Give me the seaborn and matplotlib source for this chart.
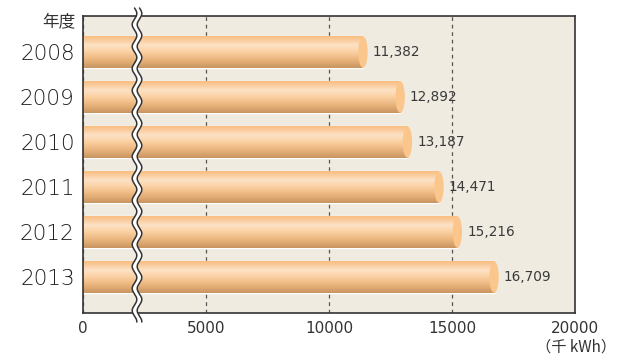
import numpy as np
import pandas as pd
import matplotlib
matplotlib.use("Agg")
import matplotlib.pyplot as plt
import seaborn as sns
from matplotlib.patches import Ellipse
from matplotlib.colors import LinearSegmentedColormap

# Annual electricity use (thousand kWh)
years = ["2008", "2009", "2010", "2011", "2012", "2013"]
usage = [11382, 12892, 13187, 14471, 15216, 16709]
value_labels = ["11,382", "12,892", "13,187", "14,471", "15,216", "16,709"]
x_ticks = [0, 5000, 10000, 15000, 20000]
x_tick_labels = ["0", "5000", "10000", "15000", "20000"]
year_title = "年度"
unit_label = "（千 kWh）"

sns.set_theme(style="white")
plt.rcParams["font.family"] = ["DejaVu Sans", "Noto Sans CJK JP"]

W, H = 617, 356
fig = plt.figure(figsize=(W / 100, H / 100), dpi=100)
fig.patch.set_facecolor("white")
ax = fig.add_axes([83 / W, 1 - 313 / H, (575 - 83) / W, (313 - 16) / H])
ax.set_facecolor("#efebe1")

df = pd.DataFrame({"year": years, "usage": usage})
sns.barplot(data=df, x="usage", y="year", orient="h", width=0.7,
            color="#f9c48c", saturation=1, ax=ax, zorder=2)

# cylinder shading: vertical gradient across each bar
shade = LinearSegmentedColormap.from_list(
    "tube",
    [(0.0, "#f8bd80"), (0.28, "#fde2c6"), (0.5, "#fbd0a2"),
     (0.75, "#eab47c"), (1.0, "#c89461")])
grad = np.linspace(0, 1, 64).reshape(-1, 1)
cap_w = 380
for p, val, lab in zip(ax.patches, usage, value_labels):
    x0, y0, w, h = p.get_x(), p.get_y(), p.get_width(), p.get_height()
    ax.imshow(grad, cmap=shade, aspect="auto", origin="upper",
              extent=(x0, x0 + w, y0 + h, y0), zorder=2.5,
              interpolation="bilinear")
    ax.add_patch(Ellipse((x0 + w, y0 + h / 2), cap_w, h,
                         facecolor="#fbc68c", edgecolor="none", zorder=3))
    ax.text(val + 400, y0 + h / 2, lab, ha="left", va="center",
            fontsize=9.8, color="#3a3a3a", zorder=4)

ax.set_xlim(0, 20000)
ax.set_ylim(5.8, -0.8)

ax.set_xticks(x_ticks)
ax.set_xticklabels(x_tick_labels)
ax.xaxis.grid(True, linestyle=(0, (3, 3)), color="#555555", lw=0.9, zorder=1)
ax.yaxis.grid(False)
ax.set_axisbelow(True)
ax.set_xlabel("")
ax.set_ylabel("")
ax.tick_params(axis="x", length=0, pad=5.5, labelsize=11, labelcolor="#333333")
ax.tick_params(axis="y", length=0, pad=6, labelsize=15.5, labelcolor="#1e1e1e")
for t in ax.get_yticklabels():
    t.set_fontweight("light")
for s in ax.spines.values():
    s.set_color("#333333")
    s.set_linewidth(1.2)

fig.text(75 / W, 1 - 22 / H, year_title, ha="right", va="center",
         fontsize=12, color="#333333", family=["Noto Sans CJK JP", "DejaVu Sans"])
fig.text(576 / W, 1 - 352 / H, unit_label, ha="center", va="baseline",
         fontsize=11, color="#333333", family=["Noto Sans CJK JP", "DejaVu Sans"])

# axis break: a double wavy line across the plot
ov = fig.add_axes([0, 0, 1, 1], zorder=10)
ov.set_xlim(0, W)
ov.set_ylim(H, 0)
ov.axis("off")
yy = np.linspace(8, 322, 600)
wave = 2.3 * np.sin(2 * np.pi * (yy - 8) / 22)
left = 134.5 + wave
right = 139.5 + wave
ov.fill_betweenx(yy, left, right, color="white", lw=0)
ov.plot(left, yy, color="#333333", lw=1.1)
ov.plot(right, yy, color="#333333", lw=1.1)

fig.savefig("out.png", dpi=100)
